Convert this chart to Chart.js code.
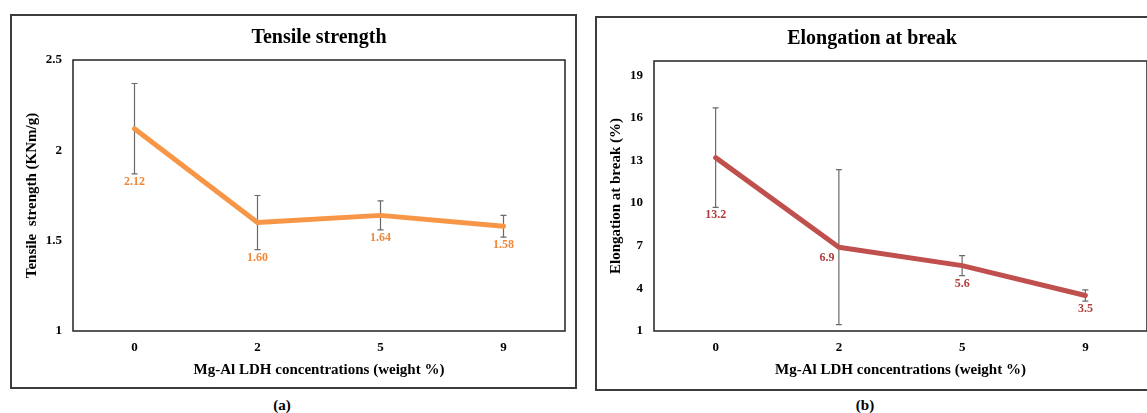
<!DOCTYPE html>
<html>
<head>
<meta charset="utf-8">
<script src="https://cdn.jsdelivr.net/npm/chart.js@4/dist/chart.umd.min.js"></script>
<style>
  html, body { margin: 0; padding: 0; background: #fff; width: 1147px; height: 413px; overflow: hidden; }
  .panel { position: absolute; border: 2px solid #3c3c3c; width: 567px; height: 375px; box-sizing: border-box; }
  .panel canvas { position: absolute; left: 0; top: 0; }
  .cap { position: absolute; font: bold 15px 'Liberation Serif', 'Times New Roman', serif; color: #000; transform: translate(-50%, -50%); }
</style>
</head>
<body>
<div class="panel" style="left:10px; top:14px;"><canvas id="tensileChart" width="563" height="371"></canvas></div>
<div class="panel" style="left:595px; top:16px;"><canvas id="elongChart" width="563" height="371"></canvas></div>
<div class="cap" style="left:282px; top:405px;">(a)</div>
<div class="cap" style="left:865px; top:405px;">(b)</div>

<script>
// data
const categories = ['0', '2', '5', '9'];
const tensile = [2.12, 1.60, 1.64, 1.58];
const tensileErr = [0.25, 0.15, 0.08, 0.06];
const tensileTicks = [1, 1.5, 2, 2.5];
const elongation = [13.2, 6.9, 5.6, 3.5];
const elongationErr = [3.5, 5.45, 0.7, 0.4];
const elongationTicks = [1, 4, 7, 10, 13, 16, 19];

const SERIF = "'Liberation Serif', 'Times New Roman', serif";
const xTitle = 'Mg-Al LDH concentrations (weight %)';

// frame round the plot area
const plotFrame = {
  id: 'plotFrame',
  beforeDatasetsDraw(chart){
    const a = chart.chartArea, ctx = chart.ctx;
    ctx.save();
    ctx.strokeStyle = '#222';
    ctx.lineWidth = 1.5;
    ctx.strokeRect(a.left, a.top, a.right - a.left, a.bottom - a.top);
    ctx.restore();
  }
};

// error bars under the line, value labels on top
const errorBars = {
  id: 'errorBars',
  beforeDatasetsDraw(chart, args, opts){
    const ctx = chart.ctx, y = chart.scales.y;
    const ds = chart.data.datasets[0];
    const meta = chart.getDatasetMeta(0);
    ctx.save();
    ctx.strokeStyle = '#6a6a6a';
    ctx.lineWidth = 1.2;
    meta.data.forEach((pt, i)=>{
      const v = ds.data[i], e = opts.errors[i];
      const t = y.getPixelForValue(v + e), b = y.getPixelForValue(v - e);
      ctx.beginPath();
      ctx.moveTo(pt.x, t); ctx.lineTo(pt.x, b);
      ctx.moveTo(pt.x - 3, t); ctx.lineTo(pt.x + 3, t);
      ctx.moveTo(pt.x - 3, b); ctx.lineTo(pt.x + 3, b);
      ctx.stroke();
    });
    ctx.restore();
  },
  afterDatasetsDraw(chart, args, opts){
    const ctx = chart.ctx, y = chart.scales.y;
    const ds = chart.data.datasets[0];
    const meta = chart.getDatasetMeta(0);
    ctx.save();
    ctx.fillStyle = opts.labelColor;
    ctx.font = 'bold 12px ' + SERIF;
    ctx.textAlign = 'center';
    ctx.textBaseline = 'middle';
    meta.data.forEach((pt, i)=>{
      const v = ds.data[i];
      const txt = v.toFixed(opts.digits);
      if((opts.side || [])[i] === 'left'){
        ctx.fillText(txt, pt.x - 12, pt.y + 11);
      } else {
        const b = y.getPixelForValue(v - opts.errors[i]);
        ctx.fillText(txt, pt.x, b + 8);
      }
    });
    ctx.restore();
  }
};

function makeChart(id, cfg){
  const tickFont = {family: SERIF, size: 13, weight: 'bold'};
  const titleFont = {family: SERIF, size: 15, weight: 'bold'};
  return new Chart(document.getElementById(id).getContext('2d'), {
    type: 'line',
    data: {
      labels: categories,
      datasets: [{
        data: cfg.values,
        borderColor: cfg.color,
        borderWidth: 5,
        borderCapStyle: 'round',
        borderJoinStyle: 'round',
        pointRadius: 0,
        tension: 0,
        fill: false
      }]
    },
    options: {
      responsive: false,
      animation: false,
      devicePixelRatio: 1,
      layout: {padding: {left: 0, right: cfg.padRight, top: 0, bottom: 0}},
      plugins: {
        legend: {display: false},
        tooltip: {enabled: false},
        title: {
          display: true,
          text: cfg.title,
          color: '#000',
          fullSize: cfg.titleFull,
          font: {family: SERIF, size: 20, weight: 'bold'},
          padding: cfg.titlePad
        },
        errorBars: {errors: cfg.errors, digits: cfg.digits, labelColor: cfg.labelColor, side: cfg.side}
      },
      scales: {
        x: {
          offset: true,
          grid: {display: false, drawTicks: false, offset: true},
          border: {display: false},
          ticks: {color: '#000', font: tickFont, padding: 9},
          title: {display: true, text: xTitle, color: '#000', font: titleFont, padding: {top: 0, bottom: cfg.xTitlePad}},
          afterFit: s => { s.height = cfg.xHeight; }
        },
        y: {
          min: cfg.ticks[0],
          max: cfg.max,
          grid: {display: false, drawTicks: false},
          border: {display: false},
          ticks: {color: '#000', font: tickFont, padding: 11, callback: v => String(v)},
          afterBuildTicks: s => { s.ticks = cfg.ticks.map(v => ({value: v})); },
          title: {display: true, text: cfg.yTitle, color: '#000', font: titleFont, padding: {top: cfg.yTitlePad, bottom: 0}},
          afterFit: s => { s.width = cfg.yWidth; }
        }
      }
    },
    plugins: [plotFrame, errorBars]
  });
}

makeChart('tensileChart', {
  values: tensile, errors: tensileErr, ticks: tensileTicks, max: 2.5, digits: 2,
  title: 'Tensile strength', titleFull: false, titlePad: {top: 10, bottom: 10},
  yTitle: 'Tensile  strength (KNm/g)',
  color: '#F79646', labelColor: '#F0883A',
  padRight: 10, yWidth: 61, xHeight: 56, xTitlePad: 8, yTitlePad: 11
});

makeChart('elongChart', {
  values: elongation, errors: elongationErr, ticks: elongationTicks, max: 20, digits: 1,
  side: ['below', 'left', 'below', 'below'],
  title: 'Elongation at break', titleFull: true, titlePad: {top: 9, bottom: 10},
  yTitle: 'Elongation at break (%)',
  color: '#C0504D', labelColor: '#B03C3C',
  padRight: 13, yWidth: 57, xHeight: 58, xTitlePad: 10, yTitlePad: 10
});
</script>
</body>
</html>
